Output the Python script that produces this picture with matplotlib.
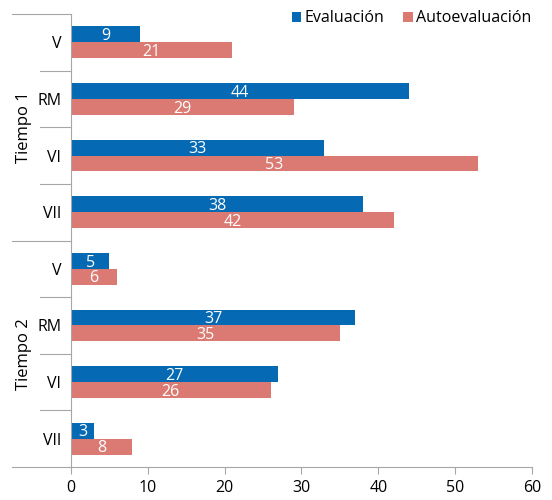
import numpy as np
import matplotlib
matplotlib.use('Agg')
import matplotlib.pyplot as plt
from matplotlib.transforms import blended_transform_factory

plt.rcParams['font.family'] = ['Open Sans', 'DejaVu Sans']

categories = ['V', 'RM', 'VI', 'VII', 'V', 'RM', 'VI', 'VII']
groups = ['Tiempo 1', 'Tiempo 2']
evaluacion = [9, 44, 33, 38, 5, 37, 27, 3]
autoevaluacion = [21, 29, 53, 42, 6, 35, 26, 8]
xticks = [0, 10, 20, 30, 40, 50, 60]

blue = '#0569B4'
salmon = '#DB7A72'
gray = '#A6A6A6'

fig = plt.figure(figsize=(5.52, 5.00), dpi=100)
ax = fig.add_axes([0.1286, 0.066, 0.835, 0.906])

y = np.arange(len(categories))
h = 0.28
ax.barh(y - h / 2, evaluacion, height=h, color=blue, label='Evaluación')
ax.barh(y + h / 2, autoevaluacion, height=h, color=salmon, label='Autoevaluación')

for i in range(len(categories)):
    ax.text(evaluacion[i] / 2, y[i] - h / 2 + 0.03, str(evaluacion[i]),
            ha='center', va='center', color='white', fontsize=11.5)
    ax.text(autoevaluacion[i] / 2, y[i] + h / 2 + 0.03, str(autoevaluacion[i]),
            ha='center', va='center', color='white', fontsize=11.5)

ax.set_xlim(0, 60)
ax.set_ylim(7.5, -0.5)
ax.set_xticks(xticks)
ax.set_xticklabels([str(t) for t in xticks], fontsize=11.5)
ax.set_yticks(y)
ax.set_yticklabels(categories, fontsize=11.5)
ax.tick_params(axis='y', length=0, pad=7)
ax.tick_params(axis='x', length=5, color=gray, direction='out', pad=4)

for s in ['top', 'right']:
    ax.spines[s].set_visible(False)
for s in ['left', 'bottom']:
    ax.spines[s].set_color(gray)
    ax.spines[s].set_linewidth(0.8)

# separators on the left side
tr = blended_transform_factory(ax.transAxes, ax.transData)
for b in np.arange(-0.5, 8, 1.0):
    x0 = -0.128 if b in (-0.5, 3.5, 7.5) else -0.067
    ax.plot([x0, 0], [b, b], color=gray, lw=0.8, transform=tr, clip_on=False)

for gi, g in enumerate(groups):
    ax.text(-0.103, 1.5 + 4 * gi, g, rotation=90, ha='center', va='center',
            fontsize=12, transform=tr)

ax.legend(loc='upper right', bbox_to_anchor=(1.03, 1.04), ncol=2, frameon=False,
          fontsize=11.5, handlelength=0.6, handleheight=0.6, handletextpad=0.2,
          columnspacing=1.2)

plt.savefig('out.png', dpi=100)
